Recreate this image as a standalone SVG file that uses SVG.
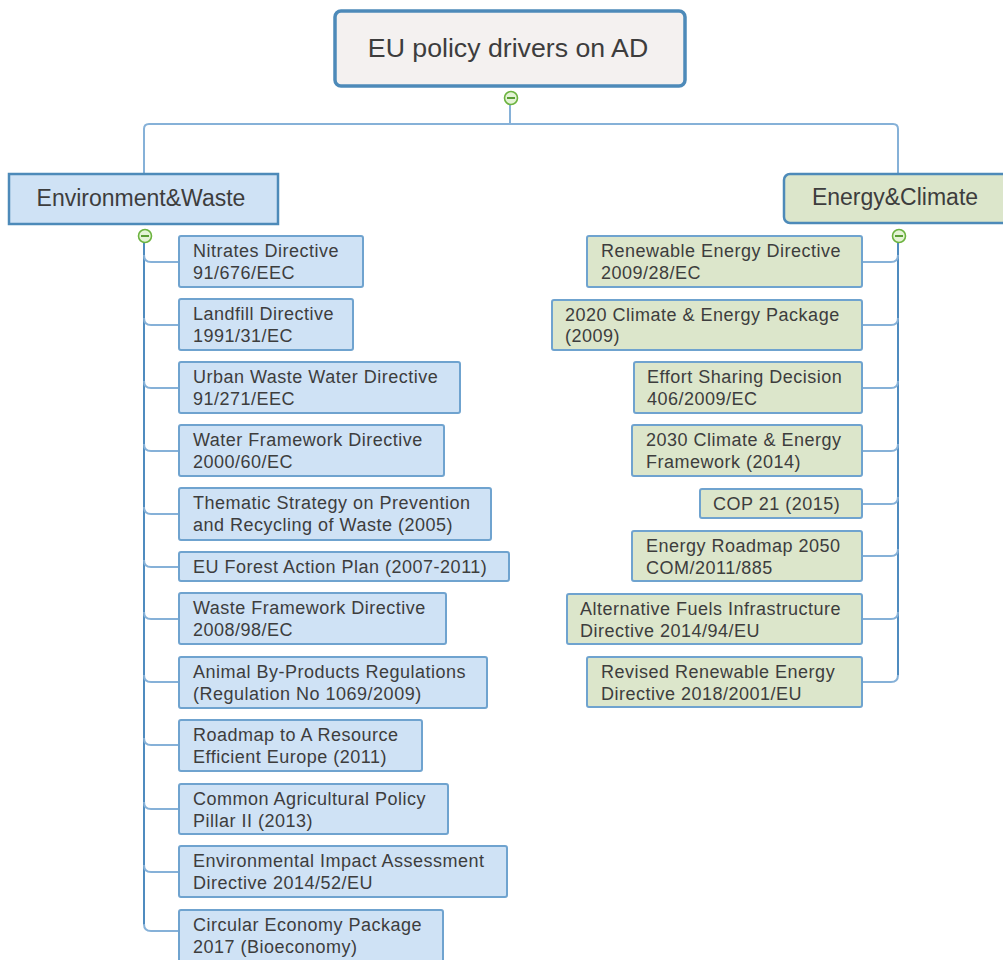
<svg xmlns="http://www.w3.org/2000/svg" width="1003" height="960" viewBox="0 0 1003 960">
<style>
text{font-family:"Liberation Sans",Arial,sans-serif;fill:#3d3d3d}
.c{font-size:18px;letter-spacing:0.5px}
.bl{fill:#cfe2f5;stroke:#6fa3cf;stroke-width:2}
.gr{fill:#dce6cb;stroke:#6fa3cf;stroke-width:2}
.conn{fill:none;stroke:#86b1d8;stroke-width:2}
.main{fill:none;stroke:#4f8bbf;stroke-width:2}
.tog circle{fill:#e4f3d6;stroke:#6cb33f;stroke-width:1.6}
.tog line{stroke:#5b9e35;stroke-width:2}
</style>
<rect width="1003" height="960" fill="#ffffff"/>
<g id="connectors">
<path class="conn" d="M510,104 V124 M510,124 H149 Q144,124 144,129 V173 M510,124 H893 Q898,124 898,129 V173"/>
<path class="main" d="M144,242 V925"/>
<path class="conn" d="M144,255 Q144,262 151,262 H179 M144,318 Q144,325 151,325 H179 M144,381 Q144,388 151,388 H179 M144,444 Q144,451 151,451 H179 M144,507 Q144,514 151,514 H179 M144,560 Q144,567 151,567 H179 M144,612 Q144,619 151,619 H179 M144,675 Q144,682 151,682 H179 M144,738 Q144,745 151,745 H179 M144,802 Q144,809 151,809 H179 M144,865 Q144,872 151,872 H179 M144,924 Q144,931 151,931 H179"/>
<path class="main" d="M898,242 V675"/>
<path class="conn" d="M898,255 Q898,262 891,262 H862 M898,318 Q898,325 891,325 H862 M898,381 Q898,388 891,388 H862 M898,444 Q898,451 891,451 H862 M898,497 Q898,504 891,504 H862 M898,549 Q898,556 891,556 H862 M898,612 Q898,619 891,619 H862 M898,675 Q898,682 891,682 H862"/>
</g>
<g id="root">
<rect x="335" y="11" width="350" height="75" rx="6" fill="#f4f1f0" stroke="#4d8ab9" stroke-width="3.5"/>
<text x="508" y="57" font-size="26.7" text-anchor="middle">EU policy drivers on AD</text>
<g class="tog"><circle cx="511" cy="98" r="6.5"/><line x1="507" y1="98" x2="515" y2="98"/></g>
</g>
<g id="env">
<rect x="9" y="174" width="269" height="50" fill="#cfe2f5" stroke="#4d8ab9" stroke-width="2.5"/>
<text x="141" y="206" font-size="23" text-anchor="middle">Environment&amp;Waste</text>
<g class="tog"><circle cx="145" cy="236" r="6.5"/><line x1="141" y1="236" x2="149" y2="236"/></g>
</g>
<g id="energy">
<rect x="784" y="174" width="230" height="49" rx="6" fill="#dce6cb" stroke="#4d8ab9" stroke-width="2.5"/>
<text x="895" y="205" font-size="23" text-anchor="middle">Energy&amp;Climate</text>
<g class="tog"><circle cx="899" cy="236" r="6.5"/><line x1="895" y1="236" x2="903" y2="236"/></g>
</g>
<g id="env1"><rect class="bl" x="179" y="236" width="184" height="51" rx="2"/><text class="c" x="193" y="257">Nitrates Directive</text><text class="c" x="193" y="279">91/676/EEC</text></g>
<g id="env2"><rect class="bl" x="179" y="299" width="174" height="51" rx="2"/><text class="c" x="193" y="320">Landfill Directive</text><text class="c" x="193" y="342">1991/31/EC</text></g>
<g id="env3"><rect class="bl" x="179" y="362" width="281" height="51" rx="2"/><text class="c" x="193" y="383">Urban Waste Water Directive</text><text class="c" x="193" y="405">91/271/EEC</text></g>
<g id="env4"><rect class="bl" x="179" y="425" width="265" height="51" rx="2"/><text class="c" x="193" y="446">Water Framework Directive</text><text class="c" x="193" y="468">2000/60/EC</text></g>
<g id="env5"><rect class="bl" x="179" y="488" width="312" height="52" rx="2"/><text class="c" x="193" y="509">Thematic Strategy on Prevention</text><text class="c" x="193" y="531">and Recycling of Waste (2005)</text></g>
<g id="env6"><rect class="bl" x="179" y="552" width="330" height="29" rx="2"/><text class="c" x="193" y="573">EU Forest Action Plan (2007-2011)</text></g>
<g id="env7"><rect class="bl" x="179" y="593" width="267" height="51" rx="2"/><text class="c" x="193" y="614">Waste Framework Directive</text><text class="c" x="193" y="636">2008/98/EC</text></g>
<g id="env8"><rect class="bl" x="179" y="657" width="308" height="51" rx="2"/><text class="c" x="193" y="678">Animal By-Products Regulations</text><text class="c" x="193" y="700">(Regulation No 1069/2009)</text></g>
<g id="env9"><rect class="bl" x="179" y="720" width="243" height="51" rx="2"/><text class="c" x="193" y="741">Roadmap to A Resource</text><text class="c" x="193" y="763">Efficient Europe (2011)</text></g>
<g id="env10"><rect class="bl" x="179" y="784" width="269" height="50" rx="2"/><text class="c" x="193" y="805">Common Agricultural Policy</text><text class="c" x="193" y="827">Pillar II (2013)</text></g>
<g id="env11"><rect class="bl" x="179" y="846" width="328" height="51" rx="2"/><text class="c" x="193" y="867">Environmental Impact Assessment</text><text class="c" x="193" y="889">Directive 2014/52/EU</text></g>
<g id="env12"><rect class="bl" x="179" y="910" width="264" height="52" rx="2"/><text class="c" x="193" y="931">Circular Economy Package</text><text class="c" x="193" y="953">2017 (Bioeconomy)</text></g>
<g id="en1"><rect class="gr" x="587" y="236" width="275" height="51" rx="2"/><text class="c" x="601" y="257">Renewable Energy Directive</text><text class="c" x="601" y="279">2009/28/EC</text></g>
<g id="en2"><rect class="gr" x="552" y="300" width="310" height="50" rx="2"/><text class="c" x="565" y="321">2020 Climate &amp; Energy Package</text><text class="c" x="565" y="342">(2009)</text></g>
<g id="en3"><rect class="gr" x="634" y="362" width="228" height="51" rx="2"/><text class="c" x="647" y="383">Effort Sharing Decision</text><text class="c" x="647" y="405">406/2009/EC</text></g>
<g id="en4"><rect class="gr" x="632" y="425" width="230" height="51" rx="2"/><text class="c" x="646" y="446">2030 Climate &amp; Energy</text><text class="c" x="646" y="468">Framework (2014)</text></g>
<g id="en5"><rect class="gr" x="700" y="489" width="162" height="29" rx="2"/><text class="c" x="713" y="510">COP 21 (2015)</text></g>
<g id="en6"><rect class="gr" x="632" y="531" width="230" height="50" rx="2"/><text class="c" x="646" y="552">Energy Roadmap 2050</text><text class="c" x="646" y="574">COM/2011/885</text></g>
<g id="en7"><rect class="gr" x="567" y="594" width="295" height="50" rx="2"/><text class="c" x="580" y="615">Alternative Fuels Infrastructure</text><text class="c" x="580" y="637">Directive 2014/94/EU</text></g>
<g id="en8"><rect class="gr" x="587" y="657" width="275" height="50" rx="2"/><text class="c" x="601" y="678">Revised Renewable Energy</text><text class="c" x="601" y="700">Directive 2018/2001/EU</text></g>
</svg>
